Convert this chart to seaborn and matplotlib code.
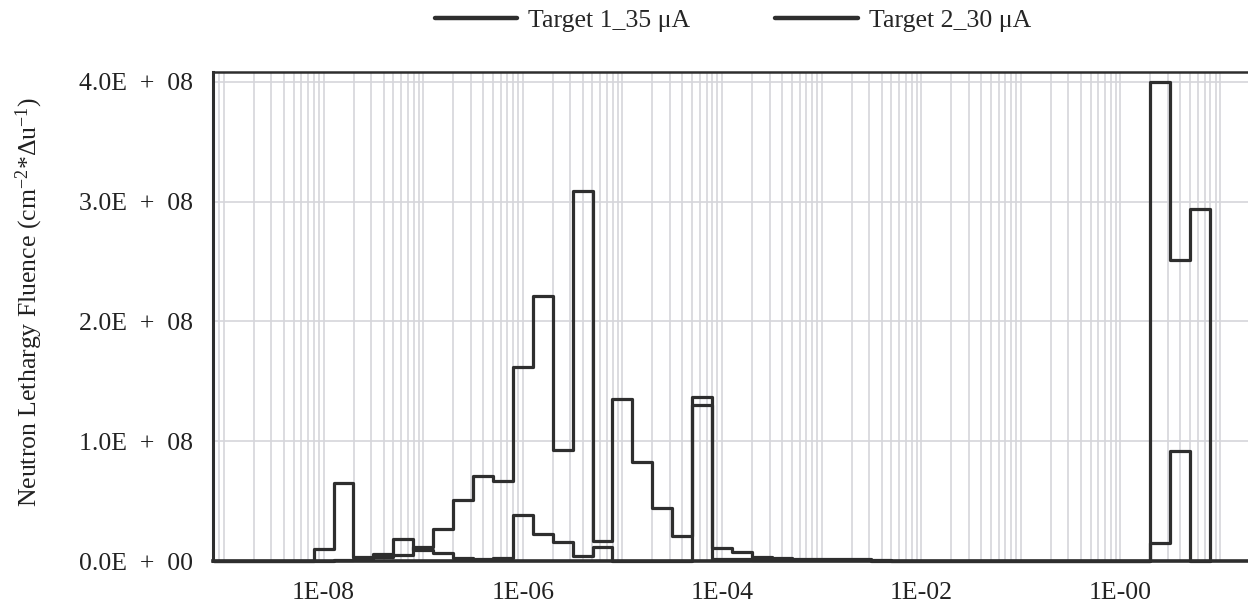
import numpy as np
import pandas as pd
import matplotlib
matplotlib.use("Agg")
import matplotlib.pyplot as plt
import seaborn as sns
from matplotlib.lines import Line2D
from matplotlib.ticker import LogLocator, NullFormatter, FixedLocator

# ---------------- data ----------------
# log10 of bin edges (MeV), 5 bins per decade
bin_log_edges = np.round(np.arange(-9.1, 0.91, 0.2), 2)   # 51 edges -> 50 bins

target1_35uA = [0, 0, 0, 0, 0,
                0, 1.0e6, 1.7e6, 3.6e6, 5.0e6, 1.2e7, 2.7e7, 5.1e7, 7.1e7, 6.7e7,
                1.62e8, 2.21e8, 9.3e7, 3.09e8, 1.7e7, 1.35e8, 8.3e7, 4.4e7, 2.05e7, 1.37e8,
                1.1e7, 7.5e6, 3.3e6, 2.5e6, 2.0e6, 1.8e6, 1.6e6, 1.4e6, 1.2e6,
                0, 0, 0, 0, 0, 0, 0, 0, 0, 0, 0, 0, 0,
                4.0e8, 2.51e8, 2.94e8]

target2_30uA = [0, 0, 0, 0, 0,
                1.0e7, 6.5e7, 3.6e6, 6.1e6, 1.8e7, 9.2e6, 6.9e6, 2.8e6, 1.7e6, 2.8e6,
                3.86e7, 2.25e7, 1.6e7, 4.0e6, 1.2e7, 0, 0, 0, 0, 1.30e8,
                2.0e6, 1.5e6, 1.2e6, 1.0e6, 0.8e6, 0.7e6, 0.6e6, 0.5e6, 0.4e6,
                0, 0, 0, 0, 0, 0, 0, 0, 0, 0, 0, 0, 0,
                1.5e7, 9.2e7, 0]

series_names = ["Target 1_35 \u03bcA", "Target 2_30 \u03bcA"]

ytick_values = [0, 1e8, 2e8, 3e8, 4e8]
ytick_labels = ["0.0E\u2002+\u200200", "1.0E\u2002+\u200208", "2.0E\u2002+\u200208",
                "3.0E\u2002+\u200208", "4.0E\u2002+\u200208"]
xtick_values = [1e-8, 1e-6, 1e-4, 1e-2, 1e0]
xtick_labels = ["1E-08", "1E-06", "1E-04", "1E-02", "1E-00"]

# ---------------- table ----------------
edges = 10.0 ** bin_log_edges
frames = []
for name, vals in zip(series_names, [target1_35uA, target2_30uA]):
    frames.append(pd.DataFrame({"energy": edges,
                                "fluence": list(vals) + [0.0],
                                "series": name}))
df = pd.concat(frames, ignore_index=True)

# ---------------- style ----------------
sns.set_style("white")
plt.rcParams["font.family"] = ["Liberation Serif", "DejaVu Serif"]
plt.rcParams["mathtext.fontset"] = "custom"
plt.rcParams["mathtext.rm"] = "Liberation Serif"
plt.rcParams["mathtext.it"] = "Liberation Serif:italic"
FS = 18.5
dark = "#2e2e2e"
gridc = "#d5d5da"

fig = plt.figure(figsize=(12.48, 6.07), dpi=100)
W, H = 1248, 607
ax = fig.add_axes([213 / W, (H - 561) / H, (1250 - 213) / W, (561 - 72) / H])

sns.lineplot(data=df, x="energy", y="fluence", hue="series",
             palette=[dark, dark], estimator=None, sort=False,
             drawstyle="steps-post", linewidth=2.3, legend=False,
             ax=ax, clip_on=False, zorder=3)

ax.set_xscale("log")
ax.set_xlim(10 ** -9.11, 10 ** 1.30)
ax.set_ylim(0, 4.0835e8)

# x ticks
decades = [10.0 ** k for k in range(-9, 2)]
lab = dict(zip(xtick_values, xtick_labels))
ax.xaxis.set_major_locator(FixedLocator(decades))
ax.set_xticks(decades)
ax.set_xticklabels([lab.get(d, "") for d in decades])
ax.xaxis.set_minor_locator(LogLocator(base=10, subs=np.arange(2, 10), numticks=40))
ax.xaxis.set_minor_formatter(NullFormatter())

# y ticks
ax.set_yticks(ytick_values)
ax.set_yticklabels(ytick_labels)
ax.set_yticks([0.5e8, 1.5e8, 2.5e8, 3.5e8], minor=True)

ax.tick_params(axis="x", which="major", direction="inout", length=8, width=1.4,
               color=dark, labelsize=FS, pad=11, labelcolor="#222222")
ax.tick_params(axis="x", which="minor", direction="inout", length=6, width=1.2,
               color=dark)
ax.tick_params(axis="y", which="both", direction="inout", length=9, width=1.4,
               color=dark, labelsize=FS, pad=10, labelcolor="#222222")

ax.grid(True, axis="x", which="both", color=gridc, linewidth=1.2, zorder=0)
ax.grid(True, axis="y", which="major", color=gridc, linewidth=1.2, zorder=0)
ax.set_axisbelow(True)

for side, lw in [("left", 2.2), ("bottom", 2.6), ("top", 1.8)]:
    ax.spines[side].set_color(dark)
    ax.spines[side].set_linewidth(lw)
ax.spines["right"].set_visible(False)

ax.set_xlabel("")
ax.set_ylabel("Neutron Lethargy Fluence (cm$^{-2}$*\u0394u$^{-1}$)",
              fontsize=FS, color="#222222")
ax.yaxis.set_label_coords(45 / W, 1 - 302 / H, transform=fig.transFigure)

handles = [Line2D([0], [0], color=dark, linewidth=3.2) for _ in series_names]
fig.legend(handles, series_names, loc="center", ncol=2, frameon=False,
           bbox_to_anchor=(733 / W, 1 - 21 / H), fontsize=FS,
           handlelength=3.2, handletextpad=0.45, columnspacing=3.3)

fig.savefig("out.png", dpi=100)
